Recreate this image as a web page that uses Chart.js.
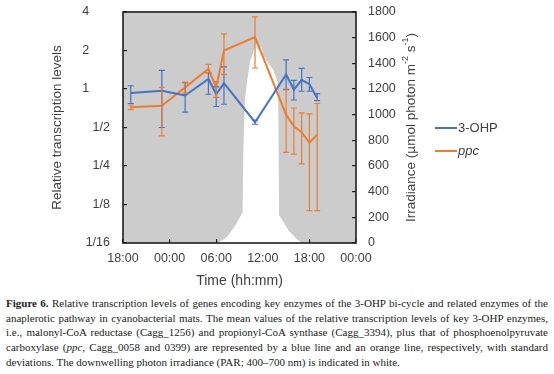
<!DOCTYPE html>
<html><head><meta charset="utf-8">
<script src="https://cdn.jsdelivr.net/npm/chart.js@4/dist/chart.umd.min.js"></script>
<style>
html,body{margin:0;padding:0;background:#fff;width:554px;height:374px;overflow:hidden;}
#wrap{position:absolute;left:0;top:0;width:554px;height:290px;}
#cap{position:absolute;left:6px;top:296px;width:542px;font-family:"Liberation Serif","DejaVu Serif",serif;font-size:11px;line-height:14.7px;color:#222;}
#cap div{text-align:justify;text-align-last:justify;white-space:nowrap;}
#cap div.last{text-align-last:left;}
</style></head>
<body>
<div id="wrap"><canvas id="c" width="554" height="290"></canvas></div>
<div id="cap">
<div><b>Figure 6.</b> Relative transcription levels of genes encoding key enzymes of the 3-OHP bi-cycle and related enzymes of the</div>
<div>anaplerotic pathway in cyanobacterial mats. The mean values of the relative transcription levels of key 3-OHP enzymes,</div>
<div>i.e., malonyl-CoA reductase (Cagg_1256) and propionyl-CoA synthase (Cagg_3394), plus that of phosphoenolpyruvate</div>
<div>carboxylase (<i>ppc</i>, Cagg_0058 and 0399) are represented by a blue line and an orange line, respectively, with standard</div>
<div class="last">deviations. The downwelling photon irradiance (PAR; 400–700 nm) is indicated in white.</div>
</div>
<script>
// ---- data ----
const sampleHours = [1, 5, 8, 11, 12, 13, 17, 21, 22, 23, 24, 25]; // hours after 18:00
const ohpMean = [0.93, 0.97, 0.89, 1.20, 0.91, 1.11, 0.55, 1.30, 0.99, 1.18, 1.09, 0.85];
const ohpHigh = [1.06, 1.40, 1.12, 1.34, 1.04, 1.49, 0.57, 1.69, 1.17, 1.45, 1.23, 0.92];
const ohpLow  = [0.77, 0.50, 0.66, 0.91, 0.73, 0.76, 0.53, 0.99, 0.82, 0.96, 0.96, 0.81];
const ppcMean = [0.72, 0.74, 1.03, 1.44, 1.03, 2.00, 2.55, 0.63, 0.51, 0.46, 0.38, 0.44];
const ppcHigh = [0.75, 1.03, 1.13, 1.56, 1.14, 2.70, 3.66, 1.00, 0.71, 0.65, 0.64, 0.77];
const ppcLow  = [0.69, 0.43, 0.93, 1.34, 0.86, 1.30, 1.46, 0.32, 0.31, 0.26, 0.112, 0.112];
const irrHours  = [0, 12.2, 13.4, 14.5, 15.4, 15.5, 15.7, 16.0, 16.4, 16.75, 17.1, 17.4, 17.8, 18.05, 18.7, 19.35, 19.9, 20.0, 20.1, 20.6, 21.3, 22.2, 23.0, 30];
const irrValues = [0, 0, 47, 140, 240, 720, 1110, 1270, 1425, 1480, 1560, 1500, 1530, 1465, 1400, 1350, 1255, 1036, 218, 170, 100, 40, 0, 0];
const timeTickLabels = ['18:00', '00:00', '06:00', '12:00', '18:00', '00:00'];
const levelTickValues = [1/16, 1/8, 1/4, 1/2, 1, 2, 4];
const levelTickLabels = ['1/16', '1/8', '1/4', '1/2', '1\u2007\u2007\u2007', '2\u2007\u2007\u2007', '4\u2007\u2007\u2007'];
const seriesNames = ['3-OHP', 'ppc'];
const BLUE = '#4472C4', ORANGE = '#ED7D31', AXIS = '#1e1e1e', TXT = '#404040';
const FONT = "'Liberation Sans', Arial, sans-serif";

const pts = (xs, ys) => xs.map((x, i) => ({x, y: ys[i]}));

const errPlugin = {
  id: 'err',
  afterDatasetsDraw(chart) {
    const {ctx, scales} = chart;
    const xs = scales.x, ys = scales.y;
    const draw = (hi, lo, color) => {
      ctx.save(); ctx.strokeStyle = color; ctx.lineWidth = 1.2;
      sampleHours.forEach((h, i) => {
        const px = xs.getPixelForValue(h), p1 = ys.getPixelForValue(hi[i]), p2 = ys.getPixelForValue(lo[i]);
        ctx.beginPath();
        ctx.moveTo(px, p1); ctx.lineTo(px, p2);
        ctx.moveTo(px - 3, p1); ctx.lineTo(px + 3, p1);
        ctx.moveTo(px - 3, p2); ctx.lineTo(px + 3, p2);
        ctx.stroke();
      });
      ctx.restore();
    };
    draw(ohpHigh, ohpLow, BLUE);
    draw(ppcHigh, ppcLow, ORANGE);
  }
};

const bgPlugin = {
  id: 'bg',
  beforeDraw(chart) {
    const {ctx, chartArea: a} = chart;
    ctx.save(); ctx.fillStyle = '#cccccc';
    ctx.fillRect(a.left, a.top, a.right - a.left, a.bottom - a.top);
    ctx.restore();
  },
  afterDraw(chart) {
    const {ctx, chartArea: a} = chart;
    ctx.save();
    ctx.strokeStyle = AXIS; ctx.lineWidth = 1.6;
    ctx.strokeRect(a.left, a.top, a.right - a.left, a.bottom - a.top);
    // right axis title, rotated bottom-to-top, with superscripts
    const cx = a.right + 55, cy = (a.top + a.bottom) / 2;
    const segs = [['Irradiance (µmol photon m', 0], ['-2', 1], [' s', 0], ['-1', 1], [')', 0]];
    const fN = '13.5px ' + FONT, fS = '9px ' + FONT;
    let w = 0;
    segs.forEach(s => { ctx.font = s[1] ? fS : fN; w += ctx.measureText(s[0]).width; });
    ctx.translate(cx, cy); ctx.rotate(-Math.PI / 2);
    ctx.fillStyle = TXT; ctx.textBaseline = 'middle'; ctx.textAlign = 'left';
    let x = -w / 2;
    segs.forEach(s => {
      ctx.font = s[1] ? fS : fN;
      ctx.fillText(s[0], x, s[1] ? -5 : 0);
      x += ctx.measureText(s[0]).width;
    });
    ctx.restore();
    // legend
    ctx.save();
    const lx = a.right + 79, ly = [a.top + 116, a.top + 139];
    [BLUE, ORANGE].forEach((c, i) => {
      ctx.strokeStyle = c; ctx.lineWidth = 2;
      ctx.beginPath(); ctx.moveTo(lx, ly[i]); ctx.lineTo(lx + 22, ly[i]); ctx.stroke();
      ctx.fillStyle = TXT; ctx.textBaseline = 'middle'; ctx.textAlign = 'left';
      ctx.font = (i === 1 ? 'italic ' : '') + '13px ' + FONT;
      ctx.fillText(seriesNames[i], lx + 23, ly[i]);
    });
    ctx.restore();
  }
};

const tickFont = {family: FONT, size: 12.5};
const fixV = w => s => { s.width = w; s.paddingTop = 0; s.paddingBottom = 0; };
new Chart(document.getElementById('c'), {
  type: 'line',
  data: {
    datasets: [
      {label: seriesNames[0], data: pts(sampleHours, ohpMean), borderColor: BLUE, borderWidth: 2, pointRadius: 0, yAxisID: 'y', order: 1},
      {label: seriesNames[1], data: pts(sampleHours, ppcMean), borderColor: ORANGE, borderWidth: 2, pointRadius: 0, yAxisID: 'y', order: 2},
      {label: 'Irradiance', data: pts(irrHours, irrValues), borderWidth: 0, borderColor: '#ffffff', backgroundColor: '#ffffff', fill: 'origin', pointRadius: 0, yAxisID: 'y2', order: 5}
    ]
  },
  options: {
    responsive: false, animation: false,
    layout: {padding: {left: 0, right: 0, top: 12, bottom: 0}},
    plugins: {legend: {display: false}, tooltip: {enabled: false}},
    scales: {
      x: {
        type: 'linear', min: 0, max: 30,
        afterFit: s => { s.height = 47; s.paddingLeft = 0; s.paddingRight = 0; },
        afterBuildTicks: s => { s.ticks = timeTickLabels.map((t, i) => ({value: i * 6})); },
        ticks: {callback: (v, i) => timeTickLabels[i], font: tickFont, color: TXT, padding: 12, maxRotation: 0, autoSkip: false},
        grid: {drawOnChartArea: false, tickLength: -4, color: AXIS, lineWidth: 1.2},
        border: {display: false},
        title: {display: true, text: 'Time (hh:mm)', font: {family: FONT, size: 14}, color: TXT, padding: {top: 0, bottom: 0}}
      },
      y: {
        type: 'logarithmic', position: 'left', min: 1/16, max: 4,
        afterFit: fixV(123),
        afterBuildTicks: s => { s.ticks = levelTickValues.map(v => ({value: v})); },
        ticks: {callback: (v, i) => levelTickLabels[i], font: tickFont, color: TXT, padding: 17},
        grid: {drawOnChartArea: false, tickLength: -4, color: AXIS, lineWidth: 1.2},
        border: {display: false},
        title: {display: true, text: 'Relative transcription levels', font: {family: FONT, size: 13.5}, color: TXT, padding: {top: 49, bottom: 0}}
      },
      y2: {
        type: 'linear', position: 'right', min: 0, max: 1800,
        afterFit: fixV(198),
        ticks: {stepSize: 200, callback: v => String(v), font: tickFont, color: TXT, padding: 16},
        grid: {drawOnChartArea: false, tickLength: -4, color: AXIS, lineWidth: 1.2},
        border: {display: false}
      }
    }
  },
  plugins: [bgPlugin, errPlugin]
});
</script>
</body></html>
